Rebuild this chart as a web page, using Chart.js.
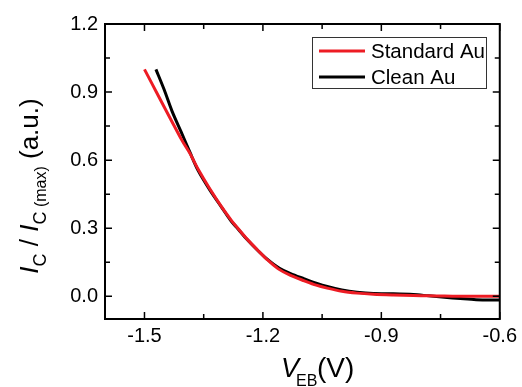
<!DOCTYPE html>
<html>
<head>
<meta charset="utf-8">
<script src="https://cdn.jsdelivr.net/npm/chart.js@4.4.0/dist/chart.umd.min.js"></script>
<style>
  html, body { margin: 0; padding: 0; background: #fff; }
  #wrap { width: 522px; height: 387px; }
</style>
</head>
<body>
<div id="wrap"><canvas id="myChart"></canvas></div>
<script>
// data
const stdX = [-1.5, -1.405, -1.385, -1.364, -1.335, -1.305, -1.28, -1.263, -1.24, -1.213, -1.19, -1.162, -1.13, -1.095, -1.065, -1.037, -1.0, -0.962, -0.92, -0.87, -0.819, -0.78, -0.74, -0.7, -0.6]
const stdY = [1.0, 0.687, 0.63, 0.56, 0.475, 0.395, 0.335, 0.299, 0.252, 0.203, 0.163, 0.122, 0.092, 0.068, 0.049, 0.036, 0.022, 0.014, 0.009, 0.006, 0.004, 0.002, 0.001, 0.0, 0.0]
const cleanX = [-1.471, -1.45, -1.43, -1.405, -1.385, -1.364, -1.335, -1.305, -1.28, -1.263, -1.24, -1.213, -1.19, -1.162, -1.13, -1.095, -1.065, -1.037, -1.0, -0.962, -0.92, -0.87, -0.819, -0.78, -0.74, -0.7, -0.66, -0.6]
const cleanY = [1.0, 0.91, 0.815, 0.716, 0.635, 0.554, 0.47, 0.393, 0.33, 0.297, 0.25, 0.202, 0.165, 0.128, 0.1, 0.077, 0.058, 0.043, 0.028, 0.018, 0.012, 0.011, 0.008, 0.002, -0.004, -0.01, -0.015, -0.016]
const xTicks = [-1.5, -1.2, -0.9, -0.6]
const yTicks = [0.0, 0.3, 0.6, 0.9, 1.2]
const xMinor = [-1.35, -1.05, -0.75]
const yMinor = [0.15, 0.45, 0.75, 1.05]

function pts(xs, ys) {
    return xs.map((x, i) => ({ x: x, y: ys[i] }))
}

const FONT = 'Arial, "Liberation Sans", sans-serif'

const framePlugin = {
    id: 'frame',
    afterDraw(chart) {
        const ctx = chart.ctx
        const a = chart.chartArea
        const xs = chart.scales.x
        const ys = chart.scales.y
        ctx.save()
        ctx.strokeStyle = '#000'
        ctx.lineWidth = 2
        ctx.strokeRect(a.left, a.top, a.right - a.left, a.bottom - a.top)
        ctx.lineWidth = 1.5
        function tick(v, len, isX) {
            ctx.beginPath()
            if (isX) {
                const p = xs.getPixelForValue(v)
                ctx.moveTo(p, a.bottom); ctx.lineTo(p, a.bottom - len)
                ctx.moveTo(p, a.top); ctx.lineTo(p, a.top + len)
            } else {
                const p = ys.getPixelForValue(v)
                ctx.moveTo(a.left, p); ctx.lineTo(a.left + len, p)
                ctx.moveTo(a.right, p); ctx.lineTo(a.right - len, p)
            }
            ctx.stroke()
        }
        xTicks.forEach(v => tick(v, 7, true))
        xMinor.forEach(v => tick(v, 5, true))
        yTicks.forEach(v => tick(v, 7, false))
        yMinor.forEach(v => tick(v, 5, false))

        // legend
        ctx.lineWidth = 1
        ctx.strokeStyle = '#333'
        ctx.strokeRect(312.5, 37.5, 174, 51)
        chart.data.datasets.forEach((ds, i) => {
            const y = 51 + i * 26
            ctx.strokeStyle = ds.borderColor
            ctx.lineWidth = 3
            ctx.beginPath(); ctx.moveTo(319, y); ctx.lineTo(365, y); ctx.stroke()
            ctx.fillStyle = '#000'
            ctx.font = '20.5px ' + FONT
            ctx.textBaseline = 'middle'
            ctx.textAlign = 'left'
            ctx.fillText(ds.label, 371, y + 1)
        })

        // x title: V_EB (V)
        ctx.fillStyle = '#000'
        ctx.textBaseline = 'alphabetic'
        ctx.textAlign = 'left'
        const base = 377
        ctx.font = 'italic 27px ' + FONT
        ctx.fillText('V', 281, base)
        ctx.font = '16px ' + FONT
        ctx.fillText('EB', 296, base + 9)
        ctx.font = '28px ' + FONT
        ctx.fillText('(V)', 317, base)

        // y title: I_C / I_C(max) (a.u.)
        ctx.translate(38, 186)
        ctx.rotate(-Math.PI / 2)
        const parts = [
            ['italic 26px ', 'I', 0],
            ['18px ', 'C', 8],
            ['26px ', ' / ', 0],
            ['italic 26px ', 'I', 0],
            ['18px ', 'C', 8],
            ['16px ', ' (max)', 8],
            ['26px ', ' (a.u.)', 0]
        ]
        let w = 0
        parts.forEach(p => { ctx.font = p[0] + FONT; w += ctx.measureText(p[1]).width })
        let px = -w / 2
        parts.forEach(p => {
            ctx.font = p[0] + FONT
            ctx.fillText(p[1], px, p[2])
            px += ctx.measureText(p[1]).width
        })
        ctx.restore()
    }
}

const ctx = document.getElementById('myChart')

new Chart(ctx, {
    type: 'scatter',
    data: {
        datasets: [{
            label: 'Standard Au',
            data: pts(stdX, stdY),
            showLine: true,
            borderColor: '#ed1c24',
            borderWidth: 3,
            pointRadius: 0,
            tension: 0.3
        }, {
            label: 'Clean Au',
            data: pts(cleanX, cleanY),
            showLine: true,
            borderColor: '#000000',
            borderWidth: 3,
            pointRadius: 0,
            tension: 0.3
        }]
    },
    options: {
        responsive: true,
        maintainAspectRatio: false,
        animation: false,
        layout: { padding: { top: 24, right: 18, left: 0, bottom: 0 } },
        plugins: {
            legend: { display: false },
            tooltip: { enabled: false }
        },
        scales: {
            x: {
                type: 'linear',
                min: -1.6,
                max: -0.6,
                grid: { display: false, drawTicks: false },
                border: { display: false },
                afterBuildTicks: s => { s.ticks = xTicks.map(v => ({ value: v })) },
                afterFit: s => { s.height = 68 },
                ticks: {
                    color: '#000',
                    padding: 5,
                    maxRotation: 0,
                    font: { family: FONT, size: 20 },
                    callback: v => v.toFixed(1)
                }
            },
            y: {
                type: 'linear',
                min: -0.1,
                max: 1.2,
                grid: { display: false, drawTicks: false },
                border: { display: false },
                afterBuildTicks: s => { s.ticks = yTicks.map(v => ({ value: v })) },
                afterFit: s => { s.width = 105 },
                ticks: {
                    color: '#000',
                    padding: 7,
                    font: { family: FONT, size: 20 },
                    callback: v => v.toFixed(1)
                }
            }
        }
    },
    plugins: [framePlugin]
})
</script>
</body>
</html>
